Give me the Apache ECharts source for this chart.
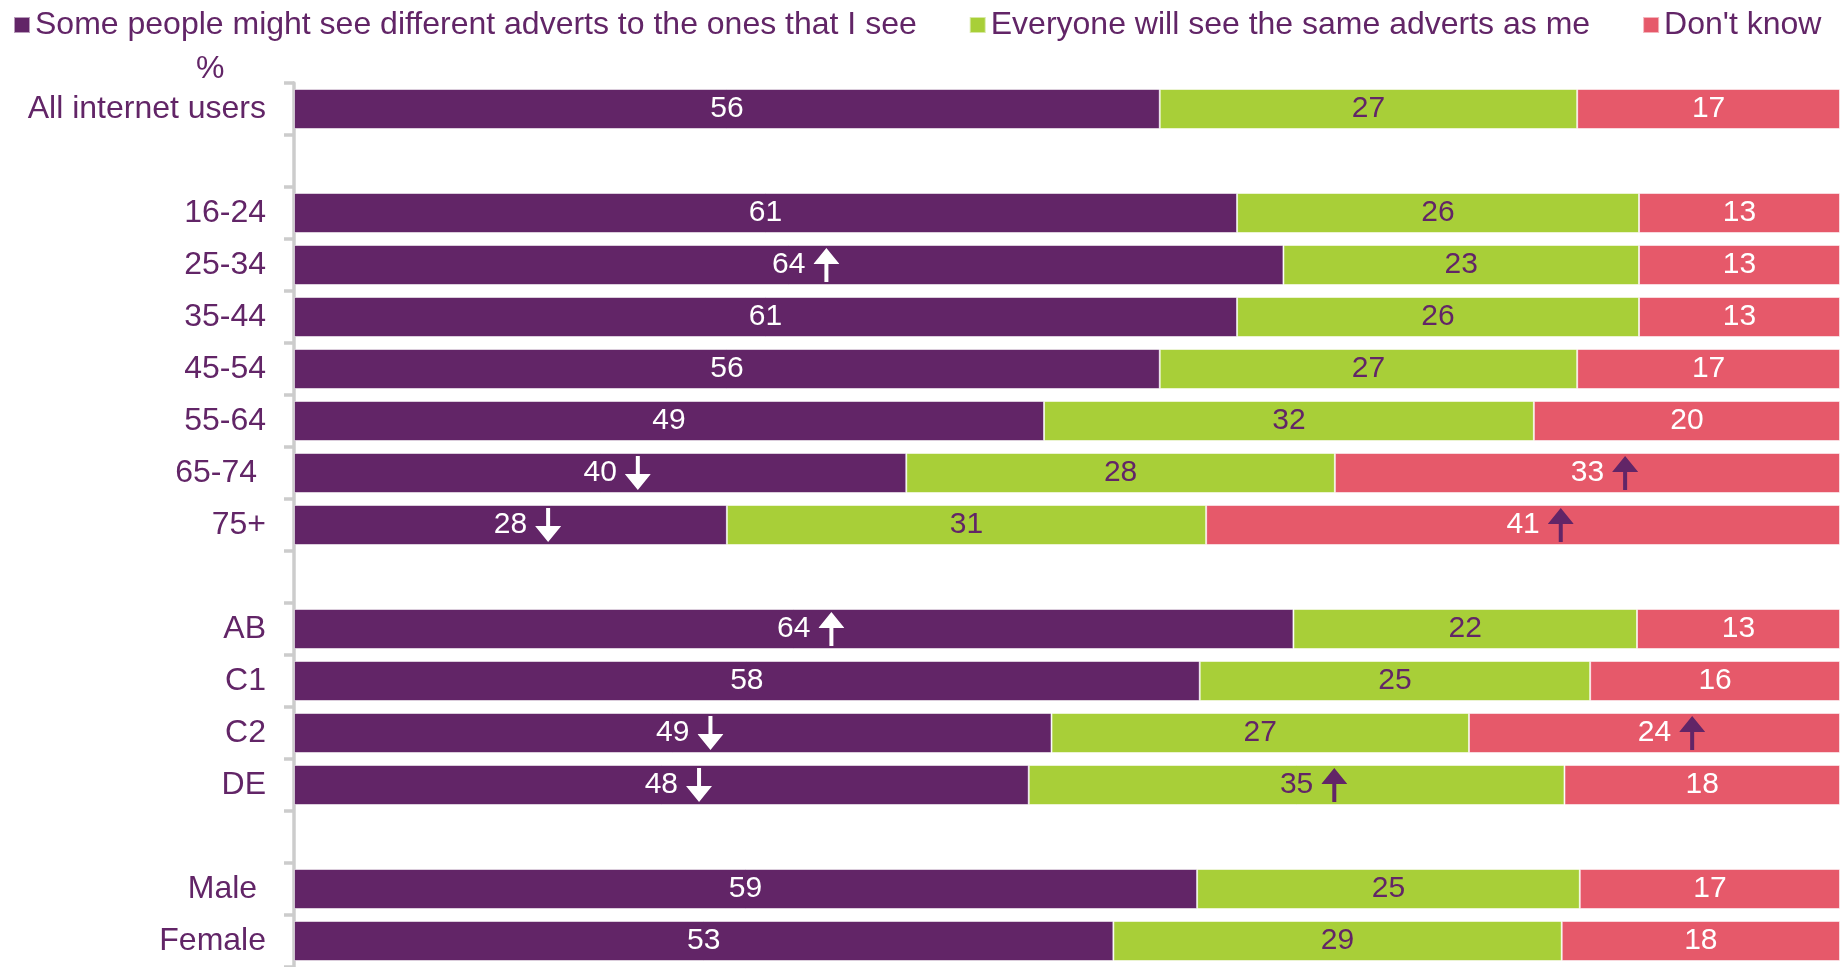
<!DOCTYPE html>
<html>
<head>
<meta charset="utf-8">
<title>Adverts</title>
<script src="https://cdn.jsdelivr.net/npm/echarts@6/dist/echarts.min.js"></script>
<style>
  html, body { margin: 0; padding: 0; background: #fff; }
  #chart { width: 1844px; height: 967px; }
</style>
</head>
<body>
<div id="chart"></div>
<script>
// categories (blank rows separate the groups)
const categories = ["All internet users", " ", "16-24", "25-34", "35-44", "45-54", "55-64", "65-74 ", "75+", "  ",
  "AB", "C1", "C2", "DE", "   ", "Male ", "Female"];
const seriesNames = ["Some people might see different adverts to the ones that I see",
  "Everyone will see the same adverts as me", "Don't know"];

const different = [56, null, 61, 64, 61, 56, 49, 40, 28, null, 64, 58, 49, 48, null, 59, 53];
const same = [27, null, 26, 23, 26, 27, 32, 28, 31, null, 22, 25, 27, 35, null, 25, 29];
const dontKnow = [17, null, 13, 13, 13, 17, 20, 33, 41, null, 13, 16, 24, 18, null, 17, 18];

// significance arrows
const differentArrows = ["", "", "", "up", "", "", "", "down", "down", "", "up", "", "down", "down", "", "", ""];
const sameArrows = ["", "", "", "", "", "", "", "", "", "", "", "", "", "up", "", "", ""];
const dontKnowArrows = ["", "", "", "", "", "", "", "up", "up", "", "", "", "up", "", "", "", ""];

const PURPLE = "#622567";
const GREEN = "#A8CF38";
const RED = "#E6596A";
const FONT = "'Liberation Sans', Arial, sans-serif";
const ARROW_W = 26;
const ARROW_GAP = 8;

function arrowImg(dir, color) {
  const d = dir === "up" ? "M13 0L26 16H15V34H11V16H0Z" : "M13 34L26 18H15V0H11V18H0Z";
  const svg = '<svg xmlns="http://www.w3.org/2000/svg" width="26" height="34" viewBox="0 0 26 34">' +
    '<path d="' + d + '" fill="' + color + '"/></svg>';
  return "data:image/svg+xml;charset=utf-8," + encodeURIComponent(svg);
}

// rows don't always add to 100 (rounding), bars are drawn as share of the row total
const totals = categories.map((c, i) => (different[i] || 0) + (same[i] || 0) + (dontKnow[i] || 0));

function buildData(values, arrows) {
  return values.map((v, i) => {
    if (v == null) return { value: null };
    return { value: v / totals[i] * 100, raw: v, arrow: arrows[i] };
  });
}

function makeSeries(name, values, arrows, color, textColor, arrowColor) {
  return {
    name: name,
    type: "bar",
    stack: "total",
    barWidth: 40,
    itemStyle: { color: color, borderColor: "rgba(255,255,255,0.55)", borderWidth: 1 },
    label: {
      show: true,
      position: "inside",
      formatter: (p) => {
        const d = p.data;
        if (d.raw == null) return "";
        // number stays centred, the arrow hangs off to the right
        if (!d.arrow) return "{v|" + d.raw + "}";
        return "{pad| }{v|" + d.raw + "}{gap| }{" + d.arrow + "| }";
      },
      rich: {
        v: { color: textColor, fontSize: 30, fontFamily: FONT },
        pad: { width: ARROW_W + ARROW_GAP },
        gap: { width: ARROW_GAP },
        up: { width: ARROW_W, height: 34, backgroundColor: { image: arrowImg("up", arrowColor) } },
        down: { width: ARROW_W, height: 34, backgroundColor: { image: arrowImg("down", arrowColor) } }
      }
    },
    emphasis: { disabled: true },
    data: buildData(values, arrows)
  };
}

const chart = echarts.init(document.getElementById("chart"));
const option = {
  animation: false,
  textStyle: { fontFamily: FONT },
  legend: {
    data: seriesNames,
    icon: "rect",
    left: 8,
    top: 4,
    itemWidth: 16,
    itemHeight: 16,
    itemGap: 52,
    selectedMode: false,
    textStyle: { color: PURPLE, fontSize: 32, fontFamily: FONT }
  },
  graphic: [{
    type: "text",
    left: 196,
    top: 53,
    style: { text: "%", fill: PURPLE, fontSize: 32, fontFamily: FONT }
  }],
  grid: {
    left: 294,
    right: 4,
    top: 83,
    bottom: 0
  },
  xAxis: {
    type: "value",
    min: 0,
    max: 100,
    show: false
  },
  yAxis: {
    type: "category",
    inverse: true,
    data: categories,
    axisLine: { show: true, lineStyle: { color: "#cccccc", width: 3.5 } },
    axisTick: { show: true, inside: false, length: 10, lineStyle: { color: "#cccccc", width: 3.5 } },
    axisLabel: { color: PURPLE, fontSize: 32, fontFamily: FONT, margin: 28, padding: [4, 0, 0, 0] }
  },
  series: [
    makeSeries(seriesNames[0], different, differentArrows, PURPLE, "#fff", "#fff"),
    makeSeries(seriesNames[1], same, sameArrows, GREEN, PURPLE, PURPLE),
    makeSeries(seriesNames[2], dontKnow, dontKnowArrows, RED, "#fff", PURPLE)
  ]
};
chart.setOption(option);
</script>
</body>
</html>
